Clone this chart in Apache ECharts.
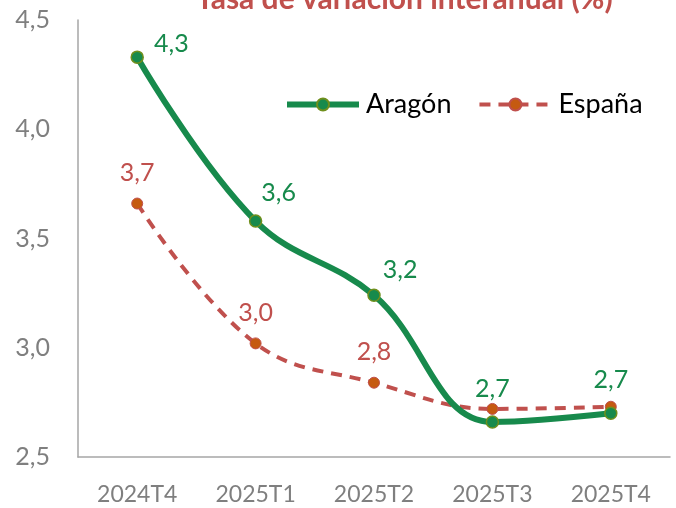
<!DOCTYPE html>
<html>
<head>
<meta charset="utf-8">
<script src="https://cdn.jsdelivr.net/npm/echarts@6/dist/echarts.min.js"></script>
<style>
  html, body { margin: 0; padding: 0; background: #fff; }
  #chart { width: 676px; height: 508px; }
</style>
</head>
<body>
<div id="chart"></div>
<script>
// datos
var categories = ['2024T4', '2025T1', '2025T2', '2025T3', '2025T4']
var aragon = [4.33, 3.58, 3.24, 2.66, 2.70]
var espana = [3.66, 3.02, 2.84, 2.72, 2.73]
var yTicks = [2.5, 3.0, 3.5, 4.0, 4.5]

var FONT = 'Lato'
var GREEN = '#178a4c'
var RED = '#c0504d'

function fmt(v) {
  return v.toFixed(1).replace('.', ',')
}

// desplazamientos de etiquetas (Aragon)
var aragonLabelPos = [
  { position: 'right', offset: [-4, -13] },
  { position: 'right', offset: [-15, -28] },
  { position: 'right', offset: [-12, -25] },
  { position: 'top', offset: [0, 0] },
  { position: 'top', offset: [0, 0] }
]

var chart = echarts.init(document.getElementById('chart'))

chart.setOption({
  animation: false,
  title: {
    text: 'Tasa de variación interanual (%)',
    left: 191,
    top: -21,
    textStyle: { color: RED, fontFamily: FONT, fontWeight: 'bold', fontSize: 30 }
  },
  legend: {
    left: 279,
    top: 86,
    itemWidth: 72,
    itemHeight: 15,
    itemGap: 26,
    textStyle: { color: '#000', fontFamily: FONT, fontSize: 27, padding: [0, 0, 0, 2] },
    data: [
      { name: 'Aragón', lineStyle: { width: 6 } },
      { name: 'España', lineStyle: { width: 4 } }
    ]
  },
  grid: { left: 78, right: 6, top: 20, bottom: 51 },
  xAxis: {
    type: 'category',
    data: categories,
    boundaryGap: true,
    axisLine: { lineStyle: { color: '#a6a6a6', width: 1.5 } },
    axisTick: { show: false },
    axisLabel: { color: '#7f7f7f', fontFamily: FONT, fontSize: 23, margin: 26 }
  },
  yAxis: {
    type: 'value',
    min: yTicks[0],
    max: yTicks[yTicks.length - 1],
    interval: 0.5,
    axisLine: { show: true, lineStyle: { color: '#a6a6a6', width: 1.5 } },
    axisTick: { show: false },
    splitLine: { show: false },
    axisLabel: { color: '#7f7f7f', fontFamily: FONT, fontSize: 25, margin: 28, formatter: fmt }
  },
  series: [
    {
      name: 'España',
      type: 'line',
      smooth: 0.4,
      z: 2,
      data: espana.map(function (v, i) {
        return { value: v, label: { show: i < 3 } }
      }),
      symbol: 'circle',
      symbolSize: 11,
      itemStyle: { color: '#c55a11', borderColor: RED, borderWidth: 1 },
      lineStyle: { color: RED, width: 4, type: [11, 8] },
      label: {
        position: 'top',
        distance: 12,
        color: RED,
        fontFamily: FONT,
        fontSize: 25,
        formatter: function (p) { return fmt(p.value) }
      }
    },
    {
      name: 'Aragón',
      type: 'line',
      smooth: 0.4,
      z: 3,
      data: aragon.map(function (v, i) {
        return { value: v, label: aragonLabelPos[i] }
      }),
      symbol: 'circle',
      symbolSize: 12,
      itemStyle: { color: GREEN, borderColor: '#6f8f1c', borderWidth: 1.5 },
      lineStyle: { color: GREEN, width: 6 },
      label: {
        show: true,
        distance: 14,
        color: GREEN,
        fontFamily: FONT,
        fontSize: 25,
        formatter: function (p) { return fmt(p.value) }
      }
    }
  ]
})
</script>
</body>
</html>
